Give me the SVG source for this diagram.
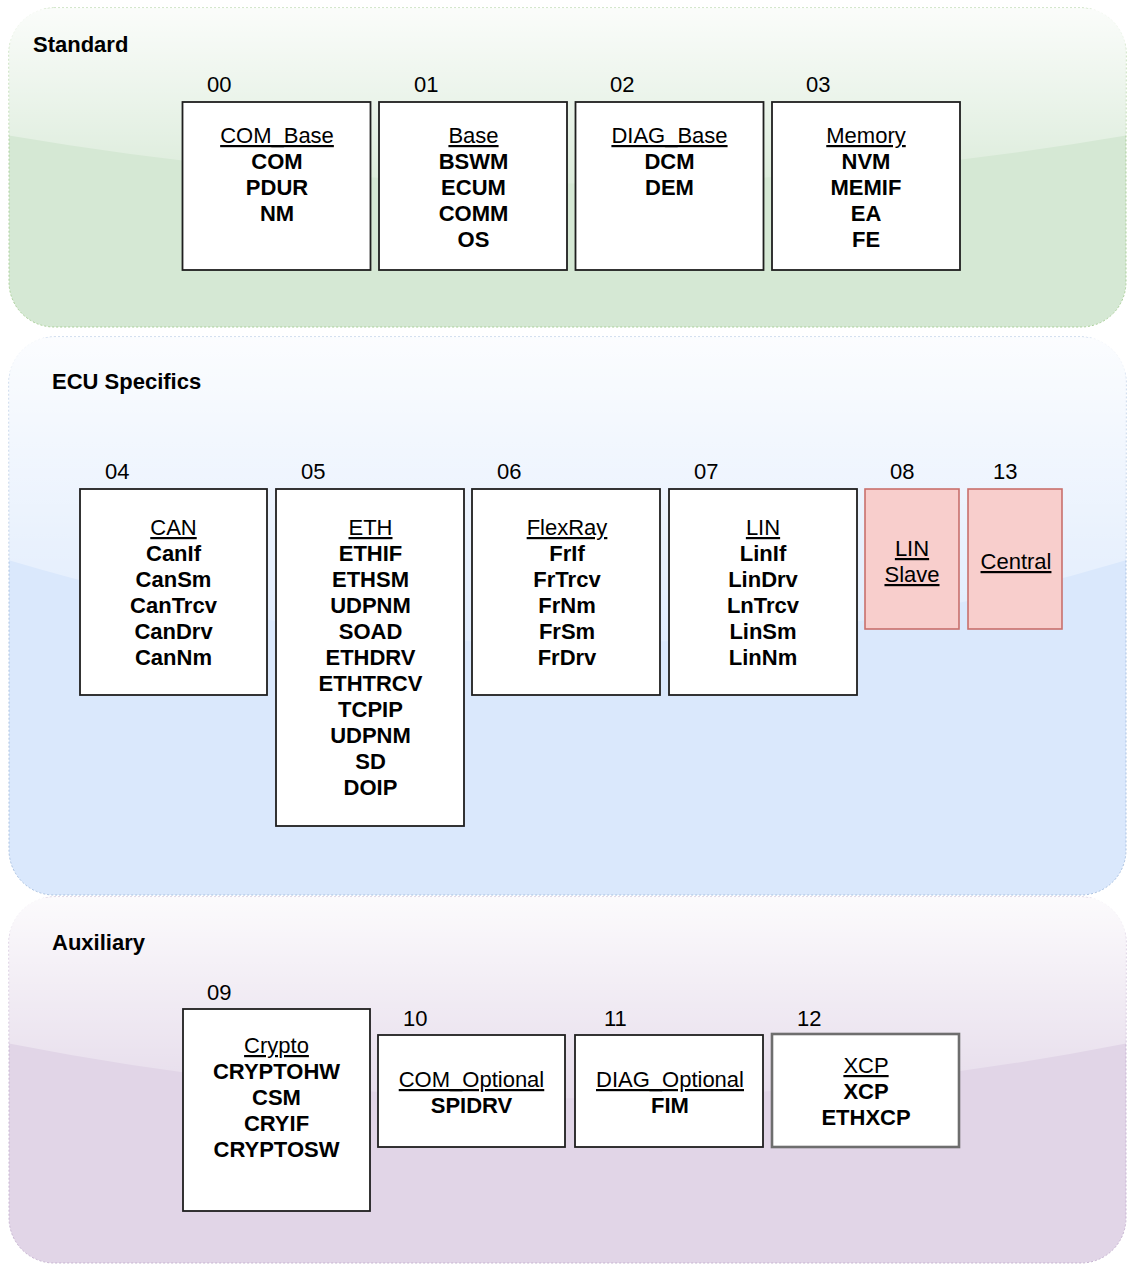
<svg xmlns="http://www.w3.org/2000/svg" width="1127" height="1265" viewBox="0 0 1127 1265">
  <style>
    text { font-family: "Liberation Sans", Arial, Helvetica, sans-serif; font-size: 22px; fill: #000; }
    .lane-title { font-weight: bold; }
    .num { font-weight: normal; }
    .body { text-anchor: middle; font-weight: bold; }
    .title { font-weight: normal; text-decoration: underline; }
    .box { fill: #ffffff; stroke: #1f1f1f; stroke-width: 1.8; }
    .box-grey { fill: #ffffff; stroke: #6e6e6e; stroke-width: 2.6; }
    .box-red { fill: #f8cecc; stroke: #c9706c; stroke-width: 1.6; }
    .glass { stroke: none; }
  </style>
  <defs>
    <linearGradient id="glassStd" gradientUnits="userSpaceOnUse" x1="0" y1="8" x2="0" y2="199.4">
      <stop offset="0" stop-color="#ffffff" stop-opacity="0.9"/>
      <stop offset="1" stop-color="#ffffff" stop-opacity="0.1"/>
    </linearGradient>
    <linearGradient id="glassEcu" gradientUnits="userSpaceOnUse" x1="0" y1="337" x2="0" y2="671.8">
      <stop offset="0" stop-color="#ffffff" stop-opacity="0.9"/>
      <stop offset="1" stop-color="#ffffff" stop-opacity="0.1"/>
    </linearGradient>
    <linearGradient id="glassAux" gradientUnits="userSpaceOnUse" x1="0" y1="897" x2="0" y2="1116.6">
      <stop offset="0" stop-color="#ffffff" stop-opacity="0.9"/>
      <stop offset="1" stop-color="#ffffff" stop-opacity="0.1"/>
    </linearGradient>
  </defs>

  <!-- Swimlane backgrounds -->
  <g id="lane-standard">
    <rect x="9" y="8" width="1117" height="319" rx="45" ry="45" fill="#d5e8d4" stroke="#a9cf98" stroke-width="1" stroke-dasharray="2 2"/>
    <path class="glass" fill="url(#glassStd)" d="M54,8 Q9,8 9,53 L9,135.6 Q567.5,231.3 1126,135.6 L1126,53 Q1126,8 1081,8 Z"/>
    <text class="lane-title" x="33" y="52">Standard</text>
  </g>
  <g id="lane-ecu">
    <rect x="9" y="337" width="1117" height="558" rx="45" ry="45" fill="#dae8fc" stroke="#a8c0e0" stroke-width="1" stroke-dasharray="2 2"/>
    <path class="glass" fill="url(#glassEcu)" d="M54,337 Q9,337 9,382 L9,560.2 Q567.5,727.6 1126,560.2 L1126,382 Q1126,337 1081,337 Z"/>
    <text class="lane-title" x="52" y="389">ECU Specifics</text>
  </g>
  <g id="lane-aux">
    <rect x="9" y="897" width="1117" height="366" rx="45" ry="45" fill="#e1d5e7" stroke="#c6b3d1" stroke-width="1" stroke-dasharray="2 2"/>
    <path class="glass" fill="url(#glassAux)" d="M54,897 Q9,897 9,942 L9,1043.4 Q567.5,1153.2 1126,1043.4 L1126,942 Q1126,897 1081,897 Z"/>
    <text class="lane-title" x="52" y="950">Auxiliary</text>
  </g>

  <!-- Standard modules -->
  <g id="node-00">
    <text class="num" x="207" y="92">00</text>
    <rect class="box" x="182.5" y="102" width="188" height="168"/>
    <text class="body" x="277" y="143"><tspan class="title">COM_Base</tspan><tspan x="277" dy="26">COM</tspan><tspan x="277" dy="26">PDUR</tspan><tspan x="277" dy="26">NM</tspan></text>
  </g>
  <g id="node-01">
    <text class="num" x="414" y="92">01</text>
    <rect class="box" x="379" y="102" width="188" height="168"/>
    <text class="body" x="473.5" y="143"><tspan class="title">Base</tspan><tspan x="473.5" dy="26">BSWM</tspan><tspan x="473.5" dy="26">ECUM</tspan><tspan x="473.5" dy="26">COMM</tspan><tspan x="473.5" dy="26">OS</tspan></text>
  </g>
  <g id="node-02">
    <text class="num" x="610" y="92">02</text>
    <rect class="box" x="575.5" y="102" width="188" height="168"/>
    <text class="body" x="669.5" y="143"><tspan class="title">DIAG_Base</tspan><tspan x="669.5" dy="26">DCM</tspan><tspan x="669.5" dy="26">DEM</tspan></text>
  </g>
  <g id="node-03">
    <text class="num" x="806" y="92">03</text>
    <rect class="box" x="772" y="102" width="188" height="168"/>
    <text class="body" x="866" y="143"><tspan class="title">Memory</tspan><tspan x="866" dy="26">NVM</tspan><tspan x="866" dy="26">MEMIF</tspan><tspan x="866" dy="26">EA</tspan><tspan x="866" dy="26">FE</tspan></text>
  </g>

  <!-- ECU specific modules -->
  <g id="node-04">
    <text class="num" x="105" y="479">04</text>
    <rect class="box" x="80" y="489" width="187" height="206"/>
    <text class="body" x="173.5" y="535"><tspan class="title">CAN</tspan><tspan x="173.5" dy="26">CanIf</tspan><tspan x="173.5" dy="26">CanSm</tspan><tspan x="173.5" dy="26">CanTrcv</tspan><tspan x="173.5" dy="26">CanDrv</tspan><tspan x="173.5" dy="26">CanNm</tspan></text>
  </g>
  <g id="node-05">
    <text class="num" x="301" y="479">05</text>
    <rect class="box" x="276" y="489" width="188" height="337"/>
    <text class="body" x="370.5" y="535"><tspan class="title">ETH</tspan><tspan x="370.5" dy="26">ETHIF</tspan><tspan x="370.5" dy="26">ETHSM</tspan><tspan x="370.5" dy="26">UDPNM</tspan><tspan x="370.5" dy="26">SOAD</tspan><tspan x="370.5" dy="26">ETHDRV</tspan><tspan x="370.5" dy="26">ETHTRCV</tspan><tspan x="370.5" dy="26">TCPIP</tspan><tspan x="370.5" dy="26">UDPNM</tspan><tspan x="370.5" dy="26">SD</tspan><tspan x="370.5" dy="26">DOIP</tspan></text>
  </g>
  <g id="node-06">
    <text class="num" x="497" y="479">06</text>
    <rect class="box" x="472" y="489" width="188" height="206"/>
    <text class="body" x="567" y="535"><tspan class="title">FlexRay</tspan><tspan x="567" dy="26">FrIf</tspan><tspan x="567" dy="26">FrTrcv</tspan><tspan x="567" dy="26">FrNm</tspan><tspan x="567" dy="26">FrSm</tspan><tspan x="567" dy="26">FrDrv</tspan></text>
  </g>
  <g id="node-07">
    <text class="num" x="694" y="479">07</text>
    <rect class="box" x="669" y="489" width="188" height="206"/>
    <text class="body" x="763" y="535"><tspan class="title">LIN</tspan><tspan x="763" dy="26">LinIf</tspan><tspan x="763" dy="26">LinDrv</tspan><tspan x="763" dy="26">LnTrcv</tspan><tspan x="763" dy="26">LinSm</tspan><tspan x="763" dy="26">LinNm</tspan></text>
  </g>
  <g id="node-08">
    <text class="num" x="890" y="479">08</text>
    <rect class="box-red" x="865" y="489" width="94" height="140"/>
    <text class="body" x="912" y="556"><tspan class="title">LIN</tspan><tspan class="title" x="912" dy="26">Slave</tspan></text>
  </g>
  <g id="node-13">
    <text class="num" x="993" y="479">13</text>
    <rect class="box-red" x="968" y="489" width="94" height="140"/>
    <text class="body" x="1016" y="569"><tspan class="title">Central</tspan></text>
  </g>

  <!-- Auxiliary modules -->
  <g id="node-09">
    <text class="num" x="207" y="1000">09</text>
    <rect class="box" x="183" y="1009" width="187" height="202"/>
    <text class="body" x="276.5" y="1053"><tspan class="title">Crypto</tspan><tspan x="276.5" dy="26">CRYPTOHW</tspan><tspan x="276.5" dy="26">CSM</tspan><tspan x="276.5" dy="26">CRYIF</tspan><tspan x="276.5" dy="26">CRYPTOSW</tspan></text>
  </g>
  <g id="node-10">
    <text class="num" x="403" y="1026">10</text>
    <rect class="box" x="378" y="1035" width="187" height="112"/>
    <text class="body" x="471.5" y="1087"><tspan class="title">COM_Optional</tspan><tspan x="471.5" dy="26">SPIDRV</tspan></text>
  </g>
  <g id="node-11">
    <text class="num" x="604" y="1026">11</text>
    <rect class="box" x="575" y="1035" width="188" height="112"/>
    <text class="body" x="670" y="1087"><tspan class="title">DIAG_Optional</tspan><tspan x="670" dy="26">FIM</tspan></text>
  </g>
  <g id="node-12">
    <text class="num" x="797" y="1026">12</text>
    <rect class="box-grey" x="772" y="1034" width="187" height="113"/>
    <text class="body" x="866" y="1073"><tspan class="title">XCP</tspan><tspan x="866" dy="26">XCP</tspan><tspan x="866" dy="26">ETHXCP</tspan></text>
  </g>

  <!-- No connectors in this layout -->
  <g id="connectors"/>
</svg>
